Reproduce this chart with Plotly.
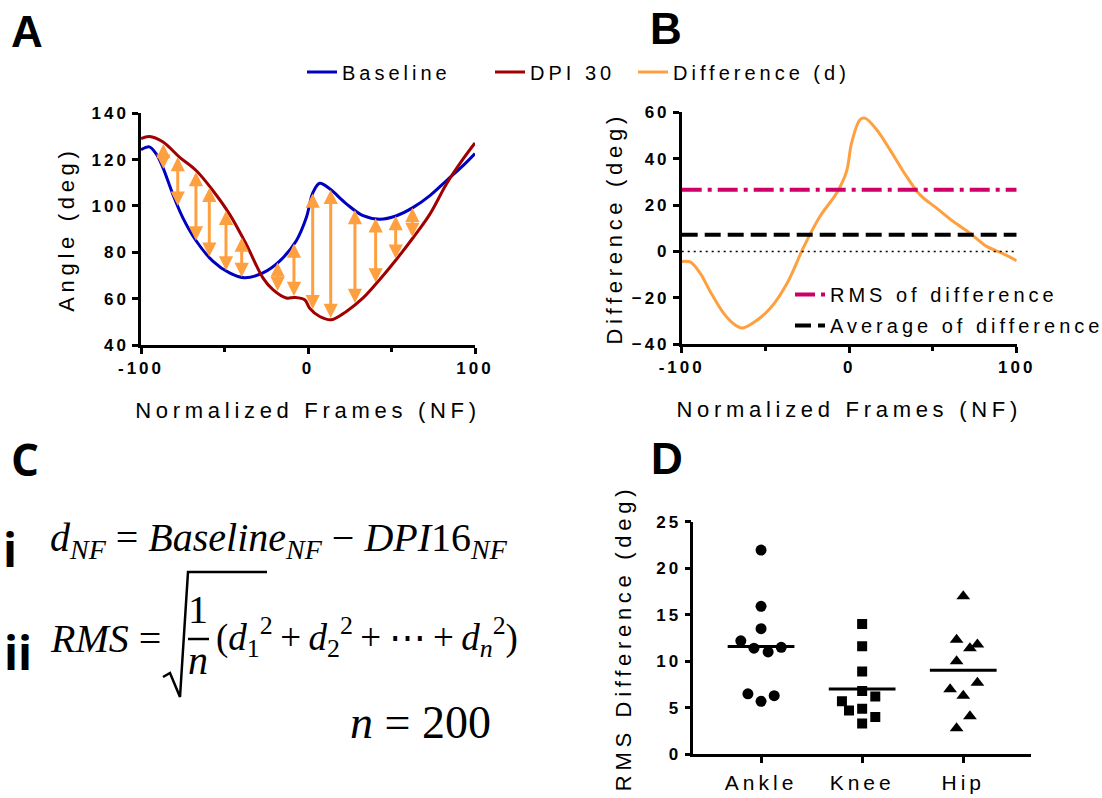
import numpy as np
import plotly.graph_objects as go

W, H = 1102, 798


def px(x):
    return x / W


def py(y):
    return 1 - y / H


# ---------------- Panel A data ----------------
nf_baseline = [-100, -95, -91, -87, -81, -75, -67, -57, -47, -38, -27, -17, -7, -1, 3, 7,
               13, 23, 33, 43, 53, 63, 73, 83, 93, 100]
baseline = [124.3, 125.5, 122.6, 116.8, 105.2, 95.0, 85.0, 76.2, 71.1, 69.0, 71.1, 76.2, 85.0,
            95.0, 105.9, 109.8, 107.4, 100.9, 95.8, 94.3, 95.8, 99.4, 104.5, 111.0, 117.5, 122.6]
nf_dpi30 = [-100, -95, -87, -77, -67, -57, -47, -37, -27, -21, -13, -8, -2, 1, 7, 14, 23, 33,
            43, 53, 63, 73, 83, 93, 100]
dpi30 = [129.1, 130.0, 127.7, 121.1, 115.3, 106.7, 96.5, 83.5, 69.0, 63.9, 60.3, 60.5, 59.5,
         55.9, 52.3, 50.9, 54.5, 60.3, 68.3, 77.0, 86.4, 96.5, 109.6, 120.4, 127.2]
arrow_nf = [-86.6, -78.0, -67.1, -59.1, -49.1, -39.7, -18.2, -8.4, 2.8, 13.6, 28.1, 40.5,
            52.5, 62.5]

# ---------------- Panel B data ----------------
nf_diff = [-100, -95, -89, -83, -75, -69, -64, -57, -47, -37, -27, -17.5, -7.5, -1.6, 1.4,
           6.4, 9.4, 16.4, 24.4, 32.3, 42.3, 52.2, 62.2, 72.1, 82.1, 92.1, 100]
difference = [-4.3, -4.5, -9.3, -17.2, -26.6, -31.2, -33.0, -30.6, -24.4, -13.6, 2.2, 15.1,
              25.2, 34.5, 46.7, 56.8, 57.5, 52.5, 43.8, 34.5, 24.4, 18.7, 12.9, 7.9, 2.2,
              -1.0, -4.0]
rms_of_difference = 26.6
average_of_difference = 7.2

nf_ticks = [-100, 0, 100]
nf_ticklabels = ["-100", "0", "100"]
nf_minor_ticks = [-50, 50]

# ---------------- Panel D data ----------------
joints = ["Ankle", "Knee", "Hip"]
ankle_rms = [21.95, 15.9, 13.5, 12.2, 11.4, 11.0, 11.5, 6.5, 5.7, 6.3]
knee_rms = [14.0, 11.6, 8.9, 6.8, 5.7, 6.2, 4.7, 4.9, 4.0, 3.3]
hip_rms = [17.0, 12.3, 11.4, 11.8, 10.0, 7.7, 7.0, 6.3, 4.1, 2.8]
ankle_jitter = [0, 0, 0, -0.2, -0.07, 0.07, 0.2, -0.13, 0, 0.13]
knee_jitter = [0, 0, 0, 0, -0.2, 0.13, -0.13, 0, 0.13, 0]
hip_jitter = [0, -0.066, 0.066, 0.14, -0.066, 0.14, -0.13, 0, 0.066, -0.066]

BLUE = "#0000C0"
RED = "#A00000"
ORANGE = "#FFA040"
MAGENTA = "#CC0066"
SANS = "Liberation Sans, Arial, sans-serif"
SERIF = "Liberation Serif, Times New Roman, serif"

fig = go.Figure()

# Panel A curves
fig.add_trace(go.Scatter(x=nf_baseline, y=baseline, mode="lines", name="Baseline",
                         line=dict(color=BLUE, width=3, shape="spline"),
                         xaxis="x", yaxis="y", legend="legend", legendwidth=143))
fig.add_trace(go.Scatter(x=nf_dpi30, y=dpi30, mode="lines", name="DPI 30",
                         line=dict(color=RED, width=3, shape="spline"),
                         xaxis="x", yaxis="y", legend="legend", legendwidth=98))

# Panel B
fig.add_trace(go.Scatter(x=nf_diff, y=difference, mode="lines", name="Difference (d)",
                         line=dict(color=ORANGE, width=3, shape="spline"),
                         xaxis="x2", yaxis="y2", legend="legend", legendwidth=200))
fig.add_trace(go.Scatter(x=[nf_ticks[0], nf_ticks[-1]], y=[0, 0], mode="lines", showlegend=False,
                         line=dict(color="black", width=1.5, dash="2px,4px"),
                         xaxis="x2", yaxis="y2", hoverinfo="skip"))
fig.add_trace(go.Scatter(x=[nf_ticks[0], nf_ticks[-1]], y=[rms_of_difference] * 2, mode="lines",
                         name="RMS of difference",
                         line=dict(color=MAGENTA, width=4, dash="20px,6px,4px,6px"),
                         xaxis="x2", yaxis="y2", legend="legend2", legendgroup="g1",
                         legendwidth=260))
fig.add_trace(go.Scatter(x=[nf_ticks[0], nf_ticks[-1]], y=[average_of_difference] * 2,
                         mode="lines", name="Average of difference",
                         line=dict(color="black", width=4, dash="16px,7px"),
                         xaxis="x2", yaxis="y2", legend="legend2", legendgroup="g2",
                         legendwidth=260))

# Panel D
symbols = ["circle", "square", "triangle-up"]
sizes = [11, 10, 12]
for i, (vals, jit) in enumerate([(ankle_rms, ankle_jitter), (knee_rms, knee_jitter),
                                 (hip_rms, hip_jitter)]):
    xs = [i + j for j in jit]
    fig.add_trace(go.Scatter(x=xs, y=vals, mode="markers", showlegend=False, name=joints[i],
                             marker=dict(symbol=symbols[i], size=sizes[i], color="black"),
                             xaxis="x3", yaxis="y3"))
    m = float(np.mean(vals))
    fig.add_trace(go.Scatter(x=[i - 0.33, i + 0.33], y=[m, m], mode="lines", showlegend=False,
                             line=dict(color="black", width=3), xaxis="x3", yaxis="y3",
                             hoverinfo="skip"))

common = dict(showline=True, linecolor="black", linewidth=2.5, ticks="outside", ticklen=6,
              tickwidth=2.5, tickcolor="black", showgrid=False, zeroline=False,
              automargin=False,
              tickfont=dict(family=SANS, size=17, color="black", weight="bold"))
title_font = dict(family=SANS, size=22, color="black")
minor = dict(tickvals=nf_minor_ticks, ticks="outside", ticklen=4, tickwidth=2.5,
             tickcolor="black")

fig.update_layout(
    width=W, height=H, margin=dict(l=0, r=0, t=0, b=0),
    paper_bgcolor="white", plot_bgcolor="white",
    xaxis=dict(common, domain=[px(141), px(475)], range=[-100, 100], anchor="y",
               tickmode="array", tickvals=nf_ticks, ticktext=nf_ticklabels, minor=minor,
               title=dict(text="Normalized Frames (NF)", font=title_font, standoff=26)),
    yaxis=dict(common, domain=[py(345), py(113.3)], range=[40, 140], anchor="x",
               tickmode="linear", tick0=40, dtick=20,
               title=dict(text="Angle (deg)", font=title_font, standoff=20)),
    xaxis2=dict(common, domain=[px(681.7), px(1016.7)], range=[-100, 100], anchor="y2",
                tickmode="array", tickvals=nf_ticks, ticktext=nf_ticklabels, minor=minor,
                title=dict(text="Normalized Frames (NF)", font=title_font, standoff=26)),
    yaxis2=dict(common, domain=[py(344.3), py(112.3)], range=[-40, 60], anchor="x2",
                tickmode="linear", tick0=-40, dtick=20,
                title=dict(text="Difference (deg)", font=title_font, standoff=13)),
    xaxis3=dict(common, domain=[px(693.3), px(1031)], range=[-0.67, 2.67], anchor="y3",
                tickmode="array", tickvals=[0, 1, 2], ticktext=joints,
                tickfont=dict(family=SANS, size=21, color="black"), ticklabelstandoff=2),
    yaxis3=dict(common, domain=[py(754.3), py(521.7)], range=[0, 25], anchor="x3",
                tickmode="linear", tick0=0, dtick=5,
                title=dict(text="RMS Difference (deg)", font=title_font, standoff=25)),
    legend=dict(orientation="h", x=px(302), y=py(72), xanchor="left", yanchor="middle",
                font=dict(family=SANS, size=20, color="black"), bgcolor="rgba(0,0,0,0)",
                traceorder="normal"),
    legend2=dict(x=px(790), y=py(275), xanchor="left", yanchor="top",
                 font=dict(family=SANS, size=20, color="black"), bgcolor="rgba(0,0,0,0)",
                 traceorder="grouped", tracegroupgap=2),
    showlegend=True,
)

annotations = []
# Panel A double-headed arrows, drawn between the two curves
for nf in arrow_nf:
    yb = float(np.interp(nf, nf_baseline, baseline))
    yr = float(np.interp(nf, nf_dpi30, dpi30))
    annotations.append(dict(x=nf, y=yb, ax=nf, ay=yr, xref="x", yref="y", axref="x", ayref="y",
                            text="", showarrow=True, arrowhead=2, startarrowhead=2,
                            arrowside="end+start", arrowsize=0.95, startarrowsize=0.95,
                            arrowwidth=3, arrowcolor=ORANGE, standoff=0, startstandoff=0))

text_annotations = []
# Panel letters
letter_specs = [("A", 27, 31, "Liberation Sans Narrow, Arial Narrow, Arial"),
                ("B", 666, 28, "Liberation Sans Narrow, Arial Narrow, Arial"),
                ("C", 25, 459, "Open Sans, Calibri, sans-serif"),
                ("D", 667, 458, SANS)]
for t, x0, y0, fam in letter_specs:
    text_annotations.append(dict(text=t, x=px(x0), y=py(y0), xanchor="center", yanchor="middle",
                                 font=dict(family=fam, size=44, color="black", weight="bold")))

# Panel C formulas
roman = dict(family="Open Sans, Calibri, sans-serif", size=46, color="black", weight="bold")
mathf = dict(family=SERIF, size=40, color="black")
text_annotations += [
    dict(text="i", x=px(10), y=py(549), xanchor="center", yanchor="middle", font=roman),
    dict(text="ii", x=px(18), y=py(652), xanchor="center", yanchor="middle", font=roman),
    dict(text="<i>d</i><sub><i>NF</i></sub> = <i>Baseline</i><sub><i>NF</i></sub> \u2212 "
              "<i>DPI</i>16<sub><i>NF</i></sub>",
         x=px(48), y=py(540), xanchor="left", yanchor="middle", font=mathf),
    dict(text="<i>RMS</i> =", x=px(48), y=py(638), xanchor="left", yanchor="middle", font=mathf),
    dict(text="1", x=px(198), y=py(609), xanchor="center", yanchor="middle", font=mathf),
    dict(text="<i>n</i>", x=px(198), y=py(660), xanchor="center", yanchor="middle", font=mathf),
    dict(text="(<i>d</i><sub>1</sub><sup>2</sup>\u2009+\u2009<i>d</i><sub>2</sub><sup>2</sup>"
              "\u2009+\u2009\u22ef\u2009+\u2009<i>d</i><sub><i>n</i></sub><sup>2</sup>)",
         x=px(214), y=py(637), xanchor="left", yanchor="middle",
         font=dict(family=SERIF, size=37, color="black")),
    dict(text="<i>n</i> = 200", x=px(348), y=py(722), xanchor="left", yanchor="middle",
         font=dict(family=SERIF, size=46, color="black")),
]
for a in text_annotations:
    a.update(xref="paper", yref="paper", showarrow=False)

fig.update_layout(annotations=annotations + text_annotations)

# Radical sign and fraction bar
fig.add_shape(type="path", xref="paper", yref="paper",
              path=f"M {px(163)},{py(677)} L {px(170)},{py(673)} L {px(180)},{py(697)} "
                   f"L {px(188)},{py(572)} L {px(267)},{py(572)}",
              line=dict(color="black", width=2.5))
fig.add_shape(type="line", xref="paper", yref="paper", x0=px(188), x1=px(209),
              y0=py(639), y1=py(639), line=dict(color="black", width=2.5))

post = """
var css = document.createElement('style');
css.textContent =
  '.js-plotly-plot g[class*="tick"] > text { letter-spacing: 3px !important; }' +
  '.js-plotly-plot g.x3tick > text { letter-spacing: 4px !important; }' +
  '.js-plotly-plot text[class$="title"] { letter-spacing: 4.7px !important; }' +
  '.js-plotly-plot text.legendtext, .js-plotly-plot text.legend2text, ' +
  '.js-plotly-plot .legend2 text, .js-plotly-plot g[class^="legend"] text.legendtext' +
  ' { letter-spacing: 4px !important; }' +
  '.js-plotly-plot g.scrollbox { clip-path: none !important; }';
document.head.appendChild(css);
"""

fig.write_html("out.html", post_script=post)
